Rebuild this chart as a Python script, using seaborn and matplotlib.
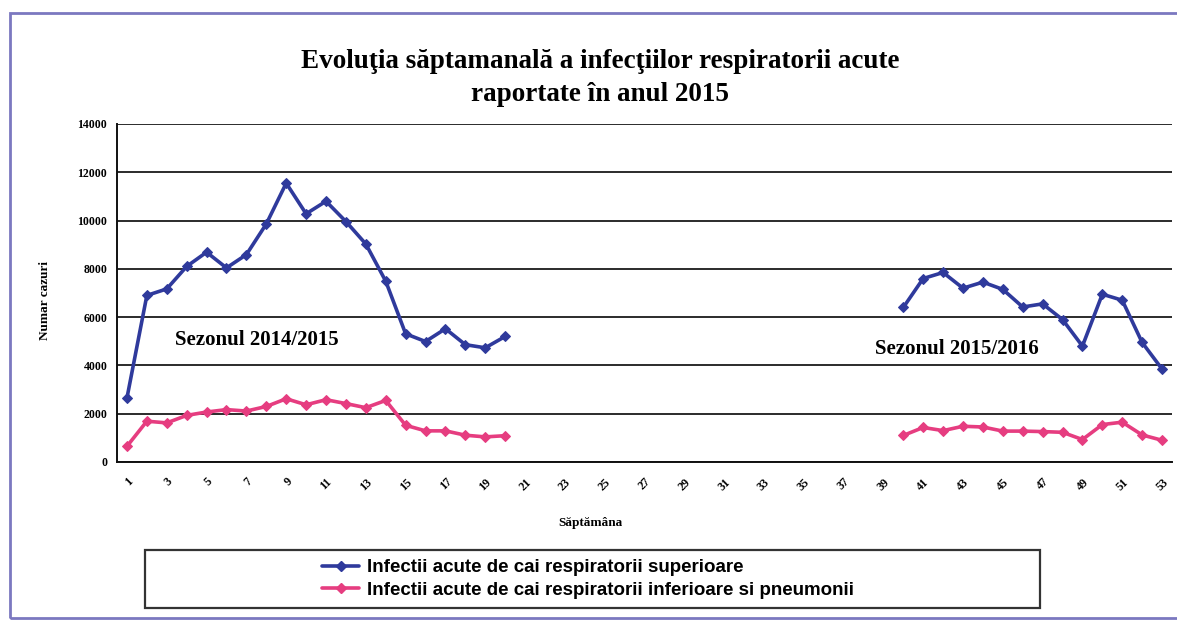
import numpy as np
import pandas as pd
import matplotlib
matplotlib.use("Agg")
import matplotlib.pyplot as plt
import seaborn as sns
from matplotlib.lines import Line2D
from matplotlib.patches import Rectangle

# weekly counts
weeks_s1 = list(range(1, 21))
weeks_s2 = list(range(40, 54))
sup_s1 = [2650, 6900, 7170, 8100, 8690, 8040, 8590, 9860, 11550, 10280,
          10800, 9960, 9030, 7490, 5310, 4990, 5520, 4860, 4730, 5200]
inf_s1 = [650, 1690, 1620, 1930, 2070, 2170, 2110, 2300, 2620, 2370,
          2580, 2420, 2250, 2550, 1520, 1290, 1290, 1110, 1040, 1090]
sup_s2 = [6400, 7600, 7850, 7200, 7450, 7150, 6420, 6550, 5900, 4800,
          6950, 6700, 4950, 3850]
inf_s2 = [1100, 1430, 1300, 1480, 1450, 1280, 1280, 1260, 1230, 930,
          1550, 1650, 1120, 900]

series_names = ["Infectii acute de cai respiratorii superioare",
                "Infectii acute de cai respiratorii inferioare si pneumonii"]
colors = ["#2f3a9c", "#e63d80"]
x_labels = [str(w) for w in range(1, 54, 2)]

title = "Evoluţia săptamanală a infecţiilor respiratorii acute\nraportate în anul 2015"

# long table, one row per point
frames = []
for name, season, weeks, vals in [
        (series_names[0], "2014/2015", weeks_s1, sup_s1),
        (series_names[1], "2014/2015", weeks_s1, inf_s1),
        (series_names[0], "2015/2016", weeks_s2, sup_s2),
        (series_names[1], "2015/2016", weeks_s2, inf_s2)]:
    frames.append(pd.DataFrame({"week": weeks, "cases": vals,
                                "series": name, "season": season}))
df = pd.concat(frames, ignore_index=True)

sns.set_style("white")
plt.rcParams["font.family"] = ["Liberation Serif", "DejaVu Serif"]
plt.rcParams["text.color"] = "black"
plt.rcParams["xtick.color"] = "black"
plt.rcParams["ytick.color"] = "black"

fig = plt.figure(figsize=(11.77, 6.22), dpi=100)
ax = fig.add_axes([117 / 1177, 1 - 462 / 622, (1172 - 117) / 1177, (462 - 124) / 622])

sns.lineplot(data=df, x="week", y="cases", hue="series", units="season",
             estimator=None, palette=dict(zip(series_names, colors)),
             marker="D", markersize=5, markeredgecolor=None,
             linewidth=2.6, legend=False, ax=ax)

ax.set_xlim(0.5, 53.5)
ax.set_ylim(0, 14000)
ax.set_yticks(np.arange(0, 14001, 2000))
ax.set_yticklabels([str(v) for v in range(0, 14001, 2000)],
                   fontsize=8.5, fontweight="bold")
ax.yaxis.grid(True, color="#1a1a1a", linewidth=1.3)
ax.set_axisbelow(True)

# tick marks at category boundaries, labels on odd weeks
ax.set_xticks(np.arange(0.5, 54, 1))
ax.set_xticklabels([])
ax.set_xticks(range(1, 54, 2), minor=True)
ax.set_xticklabels(x_labels, minor=True, rotation=45, ha="right",
                   rotation_mode="anchor", fontsize=8.5, fontweight="bold")
ax.tick_params(axis="x", which="major", direction="inout", length=7, width=1.1)
ax.tick_params(axis="x", which="minor", length=0, pad=10)
ax.tick_params(axis="y", direction="inout", length=8, width=1.1, pad=3)

for side in ["top", "right"]:
    ax.spines[side].set_visible(False)
for side in ["left", "bottom"]:
    ax.spines[side].set_color("#111111")
    ax.spines[side].set_linewidth(1.4)

ax.set_xlabel("")
ax.set_ylabel("")

ax.text(3.4, 5050, "Sezonul 2014/2015", fontsize=15, fontweight="bold", va="center")
ax.text(38.6, 4700, "Sezonul 2015/2016", fontsize=15, fontweight="bold", va="center")

fig.text(0.51, 1 - 78 / 622, title, ha="center", va="center",
         fontsize=19.5, fontweight="bold", linespacing=1.4)
fig.text(45 / 1177, 1 - 300 / 622, "Numar cazuri", rotation=90,
         ha="center", va="center", fontsize=9.5, fontweight="bold")
fig.text(590 / 1177, 1 - 523 / 622, "Săptămâna", ha="center", va="center",
         fontsize=9.5, fontweight="bold")

# outer frame and legend box
fig.add_artist(Rectangle((10 / 1177, 4 / 622), 1.0, 605 / 622, transform=fig.transFigure,
                         fill=False, edgecolor="#7b78c0", linewidth=2))
fig.add_artist(Rectangle((145 / 1177, 14 / 622), 895 / 1177, 58 / 622,
                         transform=fig.transFigure, fill=False,
                         edgecolor="#333333", linewidth=1.6))

handles = [Line2D([], [], color=c, marker="D", markersize=5, linewidth=2.6)
           for c in colors]
fig.legend(handles, series_names, loc="center left",
           bbox_to_anchor=(305 / 1177, 1 - 579 / 622), frameon=False,
           handlelength=2.0, handletextpad=0.4, labelspacing=0.3,
           prop={"family": "Liberation Sans", "weight": "bold", "size": 13.5})

fig.savefig("out.png", dpi=100)
